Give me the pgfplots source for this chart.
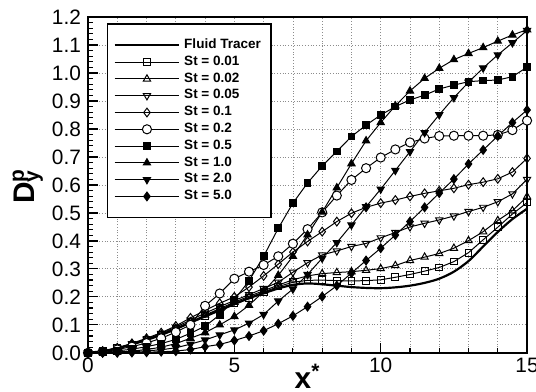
\documentclass[border=0pt]{standalone}
\usepackage{fontspec}
\setmainfont{Liberation Sans}
\usepackage{pgfplots}
\pgfplotsset{compat=1.18}
\begin{document}
\begin{tikzpicture}
\begin{axis}[
  scale only axis, width=221pt, height=169pt,
  xmin=0, xmax=15, ymin=0, ymax=1.2,
  xtick={0,5,10,15}, minor xtick={1,2,3,4,6,7,8,9,11,12,13,14},
  ytick={0,0.1,0.2,0.3,0.4,0.5,0.6,0.7,0.8,0.9,1.0,1.1,1.2},
  minor y tick num=4,
  tick align=inside, xtick pos=bottom, ytick pos=left,
  major tick length=5pt, minor tick length=2.5pt,
  xmajorgrids, xminorgrids, ymajorgrids,
  grid style={densely dotted, black!45, line width=0.4pt},
  axis line style={line width=0.9pt},
  tick style={black, line width=0.6pt},
  /pgf/number format/assume math mode=true,
  yticklabel style={/pgf/number format/.cd, fixed, fixed zerofill, precision=1},
  xticklabel style={yshift=1pt},
  ticklabel style={font=\fontsize{10.5}{11}\selectfont},
  xlabel={\fontsize{15}{15}\selectfont\bfseries x\textsuperscript{*}},
  ylabel={\fontsize{15}{15}\selectfont\bfseries D\rlap{\textsuperscript{p}}\textsubscript{y}},
  xlabel style={inner sep=0pt, yshift=8pt},
  ylabel style={inner sep=1pt, xshift=-1pt},
  every axis plot/.append style={black, line width=0.5pt},
  legend style={at={(rel axis cs:0.043,0.982)}, anchor=north west, draw=black, line width=0.8pt,
    font=\fontsize{6.8}{7.3}\selectfont\bfseries, inner xsep=3pt, inner ysep=5.5pt, row sep=-1.8pt,
    cells={anchor=west}},
  legend image code/.code={\draw[mark repeat=2, mark phase=2, #1] plot coordinates {(0cm,0cm) (0.57cm,0cm) (1.14cm,0cm)};},
]
% Fluid tracer
\addplot[line width=1.1pt, smooth] coordinates {
(0,0) (0.5,0.006) (1,0.016) (1.5,0.03) (2,0.046) (2.5,0.064) (3,0.085) (3.5,0.108) (4,0.13) (4.5,0.152)
(5,0.174) (5.5,0.195) (6,0.213) (6.5,0.23) (7,0.243) (7.5,0.248) (8,0.245) (8.5,0.24) (9,0.235) (9.5,0.232)
(10,0.231) (10.5,0.234) (11,0.24) (11.5,0.25) (12,0.265) (12.5,0.29) (13,0.328) (13.5,0.38) (14,0.432) (14.5,0.478) (15,0.515)};
\addlegendentry{Fluid Tracer}
% St = 0.01
\addplot[mark=square, mark size=1.7pt, mark options={solid, fill=white, line width=0.5pt}] coordinates {
(0,0) (0.5,0.006) (1,0.016) (1.5,0.03) (2,0.046) (2.5,0.064) (3,0.086) (3.5,0.109) (4,0.132) (4.5,0.154)
(5,0.176) (5.5,0.197) (6,0.217) (6.5,0.237) (7,0.252) (7.5,0.259) (8,0.26) (8.5,0.258) (9,0.257) (9.5,0.258)
(10,0.261) (10.5,0.27) (11,0.28) (11.5,0.292) (12,0.305) (12.5,0.326) (13,0.358) (13.5,0.404) (14,0.449) (14.5,0.496) (15,0.537)};
\addlegendentry{St = 0.01}
% St = 0.02
\addplot[mark=triangle, mark size=2.1pt, mark options={solid, fill=white, line width=0.5pt}] coordinates {
(0,0) (0.5,0.006) (1,0.017) (1.5,0.031) (2,0.047) (2.5,0.066) (3,0.088) (3.5,0.111) (4,0.135) (4.5,0.158)
(5,0.181) (5.5,0.202) (6,0.222) (6.5,0.242) (7,0.261) (7.5,0.275) (8,0.283) (8.5,0.287) (9,0.29) (9.5,0.295)
(10,0.301) (10.5,0.312) (11,0.33) (11.5,0.342) (12,0.355) (12.5,0.374) (13,0.401) (13.5,0.433) (14,0.473) (14.5,0.508) (15,0.558)};
\addlegendentry{St = 0.02}
% St = 0.05
\addplot[mark=triangle, mark size=2.1pt, mark options={solid, fill=white, rotate=180, line width=0.5pt}] coordinates {
(0,0) (0.5,0.006) (1,0.017) (1.5,0.032) (2,0.049) (2.5,0.069) (3,0.092) (3.5,0.117) (4,0.142) (4.5,0.165)
(5,0.187) (5.5,0.208) (6,0.23) (6.5,0.252) (7,0.288) (7.5,0.322) (8,0.35) (8.5,0.364) (9,0.38) (9.5,0.391)
(10,0.411) (10.5,0.43) (11,0.45) (11.5,0.463) (12,0.475) (12.5,0.489) (13,0.505) (13.5,0.52) (14,0.54) (14.5,0.568) (15,0.62)};
\addlegendentry{St = 0.05}
% St = 0.1
\addplot[mark=diamond, mark size=2.2pt, mark options={solid, fill=white, line width=0.5pt}] coordinates {
(0,0) (0.5,0.006) (1,0.018) (1.5,0.034) (2,0.052) (2.5,0.072) (3,0.096) (3.5,0.125) (4,0.152) (4.5,0.177)
(5,0.2) (5.5,0.235) (6,0.275) (6.5,0.317) (7,0.36) (7.5,0.398) (8,0.433) (8.5,0.469) (9,0.499) (9.5,0.52)
(10,0.535) (10.5,0.546) (11,0.559) (11.5,0.57) (12,0.579) (12.5,0.588) (13,0.601) (13.5,0.61) (14,0.622) (14.5,0.646) (15,0.695)};
\addlegendentry{St = 0.1}
% St = 0.2
\addplot[mark=*, mark size=2.3pt, mark options={solid, fill=white, line width=0.5pt}] coordinates {
(0,0) (0.5,0.004) (1,0.012) (1.5,0.022) (2,0.035) (2.5,0.052) (3,0.074) (3.5,0.1) (4,0.168) (4.5,0.212)
(5,0.265) (5.5,0.29) (6,0.314) (6.5,0.345) (7,0.39) (7.5,0.442) (8,0.502) (8.5,0.562) (9,0.618) (9.5,0.66)
(10,0.698) (10.5,0.727) (11,0.752) (11.5,0.766) (12,0.775) (12.5,0.776) (13,0.776) (13.5,0.776) (14,0.779) (14.5,0.796) (15,0.83)};
\addlegendentry{St = 0.2}
% St = 0.5
\addplot[mark=square*, mark size=1.7pt, mark options={solid, fill=black}] coordinates {
(0,0) (0.5,0.003) (1,0.007) (1.5,0.013) (2,0.022) (2.5,0.033) (3,0.048) (3.5,0.07) (4,0.095) (4.5,0.136)
(5,0.19) (5.5,0.257) (6,0.345) (6.5,0.445) (7,0.535) (7.5,0.607) (8,0.668) (8.5,0.72) (9,0.773) (9.5,0.814)
(10,0.85) (10.5,0.88) (11,0.904) (11.5,0.921) (12,0.943) (12.5,0.957) (13,0.969) (13.5,0.973) (14,0.975) (14.5,0.987) (15,1.021)};
\addlegendentry{St = 0.5}
% St = 1.0
\addplot[mark=triangle*, mark size=2.1pt, mark options={solid, fill=black}] coordinates {
(0,0) (0.5,0.001) (1,0.003) (1.5,0.006) (2,0.012) (2.5,0.02) (3,0.033) (3.5,0.052) (4,0.072) (4.5,0.1)
(5,0.13) (5.5,0.17) (6,0.219) (6.5,0.277) (7,0.345) (7.5,0.422) (8,0.503) (8.5,0.59) (9,0.676) (9.5,0.758)
(10,0.823) (10.5,0.883) (11,0.936) (11.5,0.981) (12,1.017) (12.5,1.048) (13,1.07) (13.5,1.091) (14,1.114) (14.5,1.136) (15,1.155)};
\addlegendentry{St = 1.0}
% St = 2.0
\addplot[mark=triangle*, mark size=2.1pt, mark options={solid, fill=black, rotate=180}] coordinates {
(0,0) (0.5,0.0) (1,0.002) (1.5,0.004) (2,0.007) (2.5,0.011) (3,0.018) (3.5,0.031) (4,0.046) (4.5,0.064)
(5,0.082) (5.5,0.106) (6,0.137) (6.5,0.185) (7,0.228) (7.5,0.28) (8,0.338) (8.5,0.394) (9,0.457) (9.5,0.522)
(10,0.585) (10.5,0.652) (11,0.719) (11.5,0.787) (12,0.851) (12.5,0.912) (13,0.967) (13.5,1.018) (14,1.065) (14.5,1.108) (15,1.152)};
\addlegendentry{St = 2.0}
% St = 5.0
\addplot[mark=diamond*, mark size=2.2pt, mark options={solid, fill=black}] coordinates {
(0,0) (0.5,0.0) (1,0.0) (1.5,0.001) (2,0.002) (2.5,0.004) (3,0.006) (3.5,0.012) (4,0.022) (4.5,0.03)
(5,0.044) (5.5,0.06) (6,0.079) (6.5,0.104) (7,0.132) (7.5,0.165) (8,0.201) (8.5,0.24) (9,0.285) (9.5,0.33)
(10,0.374) (10.5,0.421) (11,0.469) (11.5,0.52) (12,0.571) (12.5,0.621) (13,0.675) (13.5,0.725) (14,0.775) (14.5,0.823) (15,0.868)};
\addlegendentry{St = 5.0}
\end{axis}
\pgfresetboundingbox
\path ([xshift=-44.3pt,yshift=-19.7pt]current axis.south west) rectangle ([xshift=4.5pt,yshift=8.6pt]current axis.north east);
\end{tikzpicture}
\end{document}
